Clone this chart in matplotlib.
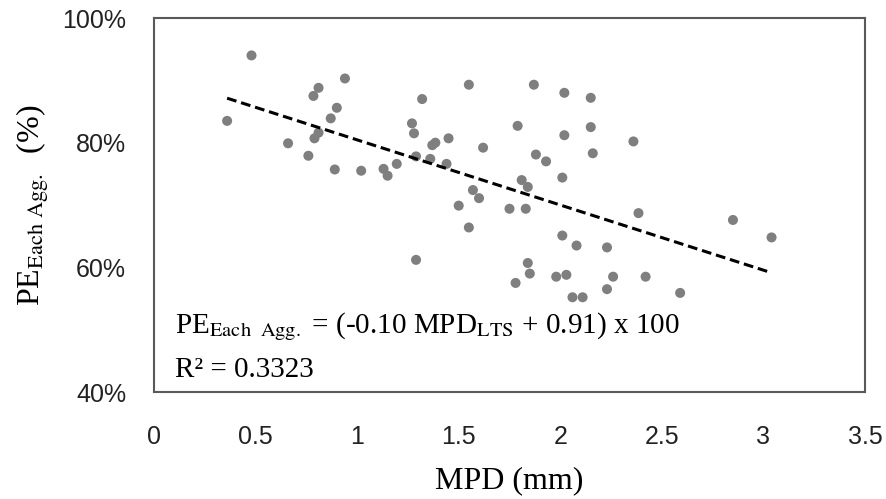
import numpy as np
import matplotlib
matplotlib.use("Agg")
import matplotlib.pyplot as plt
from matplotlib.ticker import FuncFormatter
from matplotlib import font_manager

plt.rcParams["mathtext.fontset"] = "stix"

# ── data ──────────────────────────────────────────────────────────────────
mpd = [0.36, 0.48, 0.66, 0.76, 0.785, 0.81, 0.79, 0.81, 0.87, 0.90,
       0.89, 0.94, 1.02, 1.13, 1.15, 1.195, 1.27, 1.28, 1.29, 1.32,
       1.36, 1.37, 1.385, 1.44, 1.45, 1.55, 1.62, 1.57, 1.60, 1.50,
       1.75, 1.79, 1.81, 1.84, 1.87, 2.02, 2.15, 2.15, 2.02, 2.16,
       2.36, 1.88, 1.93, 2.01, 1.83, 2.385, 2.85, 3.04, 1.55, 2.01,
       2.08, 2.23, 1.84, 1.85, 1.78, 1.98, 2.03, 2.26, 2.42, 2.23,
       2.59, 2.06, 2.11, 1.29]
pe = [83.5, 94.0, 79.9, 77.9, 87.5, 88.8, 80.7, 81.6, 83.9, 85.6,
      75.7, 90.3, 75.5, 75.8, 74.7, 76.6, 83.1, 81.5, 77.8, 87.0,
      77.4, 79.6, 80.0, 76.6, 80.7, 89.3, 79.2, 72.4, 71.1, 69.9,
      69.4, 82.7, 74.0, 72.9, 89.3, 88.0, 87.2, 82.5, 81.2, 78.3,
      80.2, 78.1, 77.0, 74.4, 69.4, 68.7, 67.6, 64.8, 66.4, 65.1,
      63.5, 63.2, 60.7, 59.0, 57.5, 58.5, 58.8, 58.5, 58.5, 56.5,
      55.9, 55.2, 55.2, 61.2]

# linear trend (fraction form, as in the printed equation)
slope = -0.1045
intercept = 0.909

x_ticks = [0, 0.5, 1, 1.5, 2, 2.5, 3, 3.5]
y_ticks = [40, 60, 80, 100]

GRAY = "#7f7f7f"
FRAME = "#595959"
SERIF = ["Liberation Serif", "DejaVu Serif"]
installed = {f.name for f in font_manager.fontManager.ttflist}
NARROW = [f for f in ["Liberation Sans Narrow", "Liberation Sans"] if f in installed] + ["DejaVu Sans"]

fig = plt.figure(figsize=(8.87, 4.99), dpi=100)
ax = fig.add_axes([0.1736, 0.2144, 0.8016, 0.7495])

ax.scatter(mpd, pe, s=52, color=GRAY, edgecolors="none", zorder=2)

xs = np.array([min(mpd), max(mpd)])
ax.plot(xs, (slope * xs + intercept) * 100, ls=(0, (3.2, 1.6)),
        color="black", lw=2.2, zorder=3)

ax.set_xlim(0, 3.5)
ax.set_ylim(40, 100)
ax.set_xticks(x_ticks)
ax.set_yticks(y_ticks)
ax.xaxis.set_major_formatter(FuncFormatter(lambda v, _: f"{v:g}"))
ax.yaxis.set_major_formatter(FuncFormatter(lambda v, _: f"{v:.0f}%"))
ax.tick_params(length=0, labelsize=18)
ax.tick_params(axis="y", pad=20)
ax.tick_params(axis="x", pad=24)
for lab in ax.get_xticklabels() + ax.get_yticklabels():
    lab.set_family(NARROW)
    lab.set_color("#222222")
for sp in ax.spines.values():
    sp.set_color(FRAME)
    sp.set_linewidth(1.5)

ax.set_xlabel("MPD (mm)", family=SERIF, fontsize=23, labelpad=12)
ax.set_ylabel(r"PE$_{\mathrm{Each\ Agg.}}$  (%)", family=SERIF, fontsize=23,
              labelpad=8)

ax.text(0.03, 0.174,
        r"PE$_{\mathrm{Each\ \ Agg.}}$ = (-0.10 MPD$_{\mathrm{LTS}}$ + 0.91) x 100",
        transform=ax.transAxes, family=SERIF, fontsize=21, ha="left",
        va="center", zorder=4,
        bbox=dict(facecolor="white", edgecolor="none", pad=1.0))
ax.text(0.03, 0.059, "R² = 0.3323", transform=ax.transAxes, family=SERIF,
        fontsize=21, ha="left", va="center", zorder=4)

fig.savefig("out.png", dpi=100, facecolor="white")
